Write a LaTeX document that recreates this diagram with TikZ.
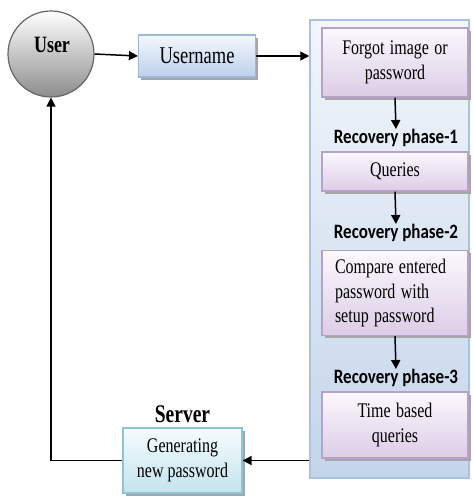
\documentclass[tikz,border=0pt]{standalone}
\usepackage{fontspec}
\usepackage{graphicx}
\setmainfont{Liberation Serif}
\newfontfamily\phasefont{Carlito}
\usetikzlibrary{arrows.meta,shadows,calc}
\definecolor{ubord}{HTML}{9DB8DC}
\definecolor{utop}{HTML}{F4F8FD}
\definecolor{ubot}{HTML}{BCD0EA}
\definecolor{pbord}{HTML}{B7A1C9}
\definecolor{ptop}{HTML}{FBF8FD}
\definecolor{pbot}{HTML}{DCCDE6}
\definecolor{sbord}{HTML}{8CC6D6}
\definecolor{stop}{HTML}{F5FBFD}
\definecolor{sbot}{HTML}{C3E4EE}
\definecolor{ctop}{HTML}{F2F6FB}
\definecolor{cbot}{HTML}{C4D5EA}
\definecolor{cbord}{HTML}{A8C2E2}
\newcommand\vst[1]{\scalebox{1}[1.3]{#1}}
\tikzset{
  shadowed/.style={drop shadow={shadow xshift=2.5pt,shadow yshift=-2.5pt,fill=black!35,opacity=1}},
  ubox/.style={shadowed,draw=ubord,line width=1.2pt,top color=utop,bottom color=ubot,minimum width=117pt,minimum height=42pt,font=\fontsize{18.5}{22}\selectfont,inner sep=2pt},
  pbox/.style={shadowed,draw=pbord,line width=1.2pt,top color=ptop,bottom color=pbot,minimum width=146pt,text width=138pt,align=center,font=\fontsize{16}{24.5}\selectfont,inner sep=2pt},
  sbox/.style={shadowed,draw=sbord,line width=1.2pt,top color=stop,bottom color=sbot,minimum width=119pt,minimum height=65pt,align=center,font=\fontsize{16}{24.5}\selectfont,inner sep=2pt},
  phase/.style={font=\phasefont\bfseries\fontsize{17}{20}\selectfont,inner sep=0pt},
  arr/.style={line width=1.5pt,-{Triangle[length=9pt,width=9pt]}},
}
\begin{document}
\begin{tikzpicture}[x=1pt,y=-1pt]
\useasboundingbox (0,0) rectangle (472,496);
% container
\node[draw=cbord,line width=1.5pt,top color=ctop,bottom color=cbot,minimum width=159pt,minimum height=458pt,inner sep=0pt] (cont) at (389.5,249) {};
% user
\node[circle,draw=black!60,line width=1.2pt,top color=white,bottom color=black!45,minimum size=86pt,inner sep=0pt] (user) at (51,54) {};
\node[font=\bfseries\fontsize{18}{20}\selectfont] (userlbl) at (52,45) {\vst{User}};
\node[ubox] (uname) at (197,56) {\vst{Username}};
\node[pbox,minimum height=69pt] (forgot) at (395,62.5) {\vst{Forgot image or}\\\vst{password}};
\node[phase] (ph1) at (396,138) {\scalebox{1}[1.2]{Recovery phase-1}};
\node[pbox,minimum height=39pt] (queries) at (395,171.5) {\vst{Queries}};
\node[phase] (ph2) at (396,233) {\scalebox{1}[1.2]{Recovery phase-2}};
\node[pbox,minimum height=85pt,align=left,text width=120pt,inner xsep=13pt] (compare) at (395,293) {\vst{Compare entered}\\\vst{password with}\\\vst{setup password}};
\node[phase] (ph3) at (396,378) {\scalebox{1}[1.2]{Recovery phase-3}};
\node[pbox,minimum height=66pt] (time) at (395,425) {\vst{Time based}\\\vst{queries}};
\node[sbox] (server) at (182.5,460.5) {\vst{Generating}\\\vst{new password}};
\node[font=\bfseries\fontsize{19.5}{20}\selectfont] (serverlbl) at (182.5,414) {\vst{Server}};
% connectors
\draw[arr] (user.east) -- (uname.west);
\draw[arr] (uname.east) -- (uname.east -| cont.west);
\draw[arr] (forgot.south) -- (ph1.north);
\draw[arr] (queries.south) -- (ph2.north);
\draw[arr] (compare.south) -- (ph3.north);
\coordinate (cout) at (cont.west |- server.east);
\draw[arr] (cout) -- (server.east);
\draw[arr] (server.west) -| (user.south);
\end{tikzpicture}
\end{document}
